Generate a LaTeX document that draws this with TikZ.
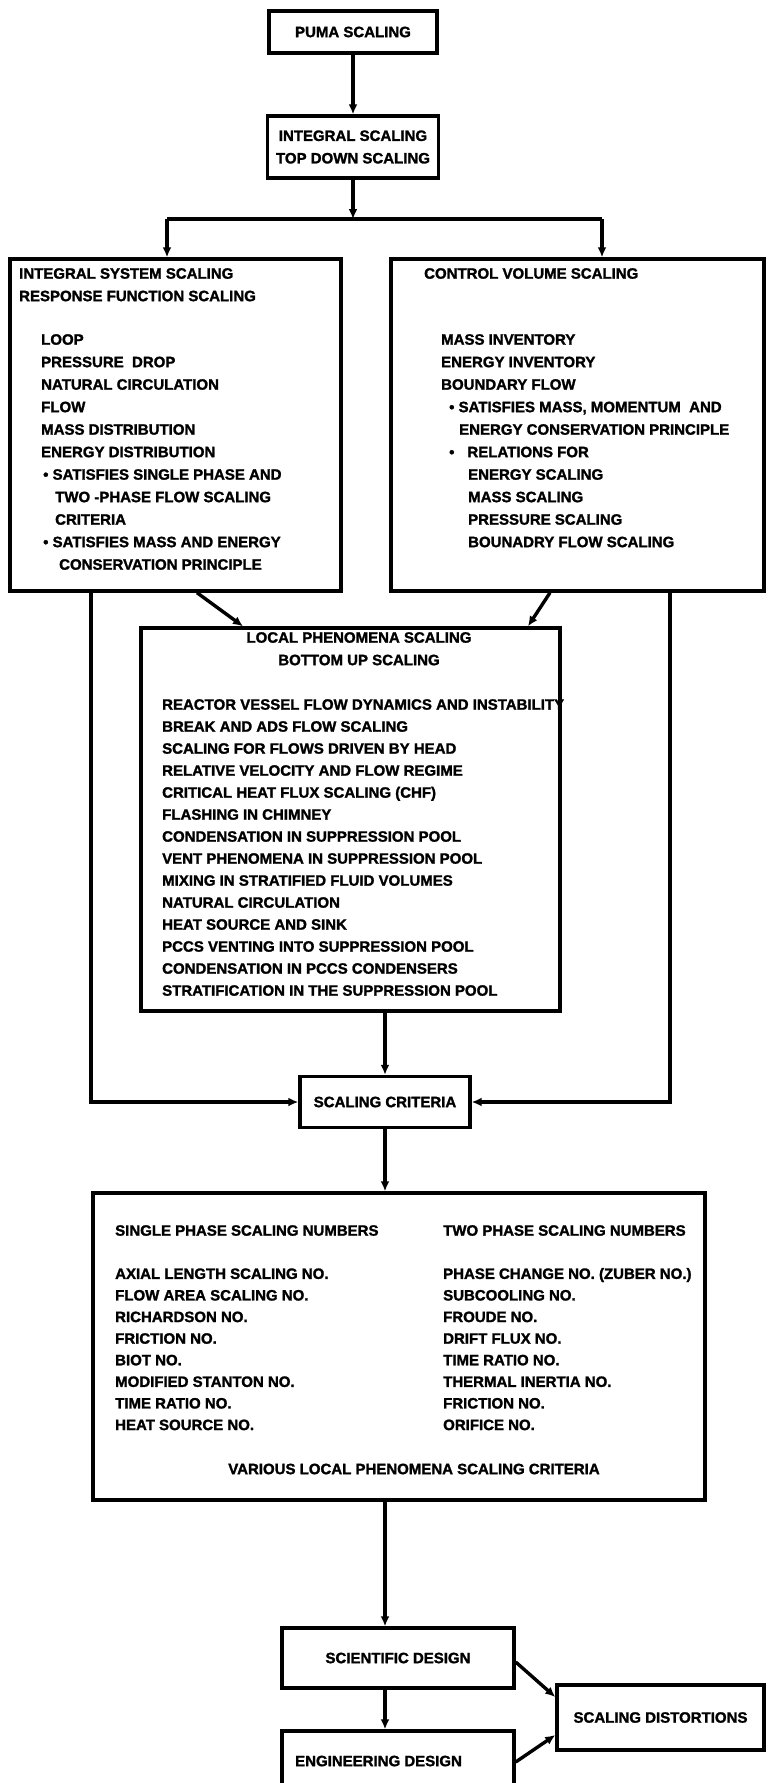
\documentclass[tikz,border=0pt]{standalone}
\usepackage{fontspec}
\setmainfont{Liberation Sans}[BoldFeatures={FakeBold=1.6}]
\usetikzlibrary{arrows.meta}

\tikzset{
  box/.style={draw, line width=3.4pt, inner sep=0pt},
  txt/.style={inner sep=0pt, font=\bfseries\fontsize{15}{22.5}\selectfont, align=left},
  conn/.style={line width=3.4pt, -{Latex[length=10pt,width=9pt]}},
  wire/.style={line width=3.4pt},
}

\begin{document}
\begin{tikzpicture}[x=1pt,y=-1pt]
\useasboundingbox (0,0) rectangle (775,1783);

% top of the tree
\node[box, txt, align=center, minimum width=168pt, minimum height=42pt] (puma) at (353,32) {PUMA SCALING};
\node[box, txt, align=center, minimum width=171pt, minimum height=62pt] (integral) at (353,147) {INTEGRAL SCALING\\TOP DOWN SCALING};

% the two top down branches
\node[box, minimum width=331pt, minimum height=332pt] (intsys) at (175.5,425) {};
\node[txt, anchor=north west] (intsyshead) at (19,268) {INTEGRAL SYSTEM SCALING\\RESPONSE FUNCTION SCALING};
\node[txt, anchor=north west] (intsyslist) at (41,334) {LOOP\\
  PRESSURE\ \ DROP\\
  NATURAL CIRCULATION\\
  FLOW\\
  MASS DISTRIBUTION\\
  ENERGY DISTRIBUTION\\
  \hspace*{2pt}\textbullet\ SATISFIES SINGLE PHASE AND\\
  \hspace*{14pt}TWO -PHASE FLOW SCALING\\
  \hspace*{14pt}CRITERIA\\
  \hspace*{2pt}\textbullet\ SATISFIES MASS AND ENERGY\\
  \hspace*{18pt}CONSERVATION PRINCIPLE};

\node[box, minimum width=373pt, minimum height=332pt] (ctrlvol) at (577.5,425) {};
\node[txt, anchor=north west] (ctrlvolhead) at (424,268) {CONTROL VOLUME SCALING};
\node[txt, anchor=north west] (ctrlvollist) at (441,334) {MASS INVENTORY\\
  ENERGY INVENTORY\\
  BOUNDARY FLOW\\
  \hspace*{8pt}\textbullet\ SATISFIES MASS, MOMENTUM\ \ AND\\
  \hspace*{18pt}ENERGY CONSERVATION PRINCIPLE\\
  \hspace*{8pt}\textbullet\hspace{13pt}RELATIONS FOR\\
  \hspace*{27pt}ENERGY SCALING\\
  \hspace*{27pt}MASS SCALING\\
  \hspace*{27pt}PRESSURE SCALING\\
  \hspace*{27pt}BOUNADRY FLOW SCALING};

% bottom up branch
\node[box, minimum width=419pt, minimum height=383pt] (local) at (350.5,819.5) {};
\node[txt, align=center, anchor=north] (localhead) at (359,632) {LOCAL PHENOMENA SCALING\\BOTTOM UP SCALING};
\node[txt, anchor=north west, font=\bfseries\fontsize{15}{22}\selectfont] (locallist) at (162,699) {REACTOR VESSEL FLOW DYNAMICS AND INSTABILITY\\
  BREAK AND ADS FLOW SCALING\\
  SCALING FOR FLOWS DRIVEN BY HEAD\\
  RELATIVE VELOCITY AND FLOW REGIME\\
  CRITICAL HEAT FLUX SCALING (CHF)\\
  FLASHING IN CHIMNEY\\
  CONDENSATION IN SUPPRESSION POOL\\
  VENT PHENOMENA IN SUPPRESSION POOL\\
  MIXING IN STRATIFIED FLUID VOLUMES\\
  NATURAL CIRCULATION\\
  HEAT SOURCE AND SINK\\
  PCCS VENTING INTO SUPPRESSION POOL\\
  CONDENSATION IN PCCS CONDENSERS\\
  STRATIFICATION IN THE SUPPRESSION POOL};

\node[box, txt, align=center, minimum width=170pt, minimum height=51pt] (crit) at (385,1102) {SCALING CRITERIA};

% scaling numbers
\node[box, minimum width=612pt, minimum height=307pt] (nums) at (399,1346.5) {};
\node[txt, anchor=north west, font=\bfseries\fontsize{15}{21.6}\selectfont] (single) at (115,1225) {SINGLE PHASE SCALING NUMBERS\\[21.6pt]
  AXIAL LENGTH SCALING NO.\\
  FLOW AREA SCALING NO.\\
  RICHARDSON NO.\\
  FRICTION NO.\\
  BIOT NO.\\
  MODIFIED STANTON NO.\\
  TIME RATIO NO.\\
  HEAT SOURCE NO.};
\node[txt, anchor=north west, font=\bfseries\fontsize{15}{21.6}\selectfont] (twophase) at (443,1225) {TWO PHASE SCALING NUMBERS\\[21.6pt]
  PHASE CHANGE NO. (ZUBER NO.)\\
  SUBCOOLING NO.\\
  FROUDE NO.\\
  DRIFT FLUX NO.\\
  TIME RATIO NO.\\
  THERMAL INERTIA NO.\\
  FRICTION NO.\\
  ORIFICE NO.};
\node[txt] (various) at (414,1469) {VARIOUS LOCAL PHENOMENA SCALING CRITERIA};

% design stage
\node[box, txt, align=center, minimum width=232pt, minimum height=60pt] (sci) at (398,1658) {SCIENTIFIC DESIGN};
\node[box, minimum width=232pt, minimum height=69pt] (eng) at (398,1765.5) {};
\node[txt, anchor=west] (engtext) at (295,1761) {ENGINEERING DESIGN};
\node[box, txt, align=center, minimum width=207pt, minimum height=65pt] (dist) at (660.5,1717.5) {SCALING DISTORTIONS};

% connectors
\coordinate (split) at (353,219);
\coordinate (splitL) at (167,219);
\coordinate (splitR) at (602,219);
\draw[conn] (puma) -- (integral);
\draw[conn] (integral.south) -- (split);
\draw[wire] (splitL) -- (splitR);
\draw[conn] (splitL) -- (splitL |- intsys.north);
\draw[conn] (splitR) -- (splitR |- ctrlvol.north);
\draw[conn] ([xshift=21.5pt]intsys.south) -- ([xshift=-107.5pt]local.north);
\draw[conn] ([xshift=-27.5pt]ctrlvol.south) -- ([xshift=177.5pt]local.north);
\draw[conn] ([xshift=-84.5pt]intsys.south) |- (crit.west);
\draw[conn] ([xshift=92.5pt]ctrlvol.south) |- (crit.east);
\draw[conn] (local.south -| crit.north) -- (crit.north);
\draw[conn] (crit.south) -- (crit.south |- nums.north);
\draw[conn] (nums.south -| crit.south) -- (sci.north -| crit.south);
\draw[conn] (sci.south -| crit.south) -- (eng.north -| crit.south);
\draw[conn] ([yshift=-4pt]sci.east) -- ([yshift=20.5pt]dist.west);
\draw[conn] ([yshift=3.5pt]eng.east) -- ([yshift=-17.5pt]dist.west);
\end{tikzpicture}
\end{document}
